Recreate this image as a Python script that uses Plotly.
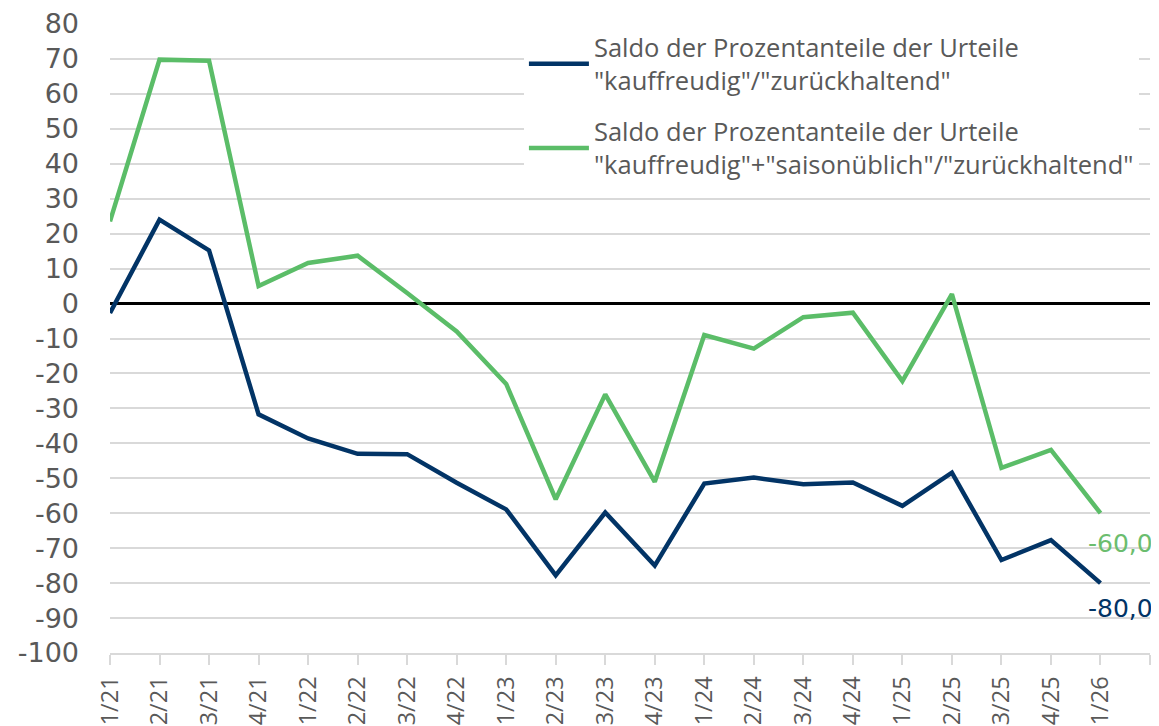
import plotly.graph_objects as go

quarters = ["1/21", "2/21", "3/21", "4/21", "1/22", "2/22", "3/22", "4/22",
            "1/23", "2/23", "3/23", "4/23", "1/24", "2/24", "3/24", "4/24",
            "1/25", "2/25", "3/25", "4/25", "1/26"]

saldo_kauf = [-2.7, 24.0, 15.2, -31.7, -38.6, -43.0, -43.1, -51.3,
              -58.9, -77.8, -59.8, -75.0, -51.5, -49.8, -51.7, -51.2,
              -57.9, -48.4, -73.4, -67.7, -80.0]

saldo_kauf_saison = [23.5, 69.8, 69.5, 5.0, 11.6, 13.7, 3.0, -8.0,
                     -23.0, -56.0, -26.0, -51.0, -9.0, -12.9, -3.9, -2.6,
                     -22.2, 2.7, -47.0, -41.9, -60.0]

name_kauf = "Saldo der Prozentanteile der Urteile<br>\"kauffreudig\"/\"zurückhaltend\""
name_saison = "Saldo der Prozentanteile der Urteile<br>\"kauffreudig\"+\"saisonüblich\"/\"zurückhaltend\""

y_ticks = list(range(-100, 81, 10))

NAVY = "#023466"
GREEN = "#5BBD68"
GRAY_TXT = "#595959"
FONT = "Open Sans"
WIDE = "DejaVu Sans"

x_idx = list(range(len(quarters)))

fig = go.Figure()
fig.add_trace(go.Scatter(x=x_idx, y=saldo_kauf, mode="lines", name=name_kauf,
                         line=dict(color=NAVY, width=4.5), legendgroup="a"))
fig.add_trace(go.Scatter(x=x_idx, y=saldo_kauf_saison, mode="lines", name=name_saison,
                         line=dict(color=GREEN, width=4.5), legendgroup="b"))

def fmt(v):
    return f"{v:.1f}".replace(".", ",")

fig.add_annotation(x=x_idx[-1], y=saldo_kauf_saison[-1], text=fmt(saldo_kauf_saison[-1]),
                   showarrow=False, xanchor="left", yanchor="middle", xshift=-14, yshift=-30,
                   font=dict(family=WIDE, size=25, color="#6BBD6E"))
fig.add_annotation(x=x_idx[-1], y=saldo_kauf[-1], text=fmt(saldo_kauf[-1]),
                   showarrow=False, xanchor="left", yanchor="middle", xshift=-14, yshift=-25,
                   font=dict(family=WIDE, size=25, color=NAVY))

fig.update_layout(
    width=1159, height=726,
    margin=dict(l=102, r=17, t=16, b=81),
    paper_bgcolor="white", plot_bgcolor="white",
    font=dict(family=FONT, color=GRAY_TXT),
    showlegend=True,
    legend=dict(x=0.398, y=1.0, xanchor="left", yanchor="top",
                font=dict(family=FONT, size=25.5, color=GRAY_TXT),
                bgcolor="rgba(255,255,255,1)", traceorder="grouped",
                tracegroupgap=15, itemwidth=60),
    xaxis=dict(range=[0, len(quarters)], tickmode="array", automargin=False,
               tickvals=list(range(len(quarters) + 1)), ticktext=quarters + [""],
               tickangle=-90, ticks="outside", ticklen=10, tickwidth=2,
               tickcolor="#D9D9D9", showline=True, linecolor="#D9D9D9", linewidth=2,
               showgrid=False, zeroline=False, ticklabeloverflow="allow",
               tickfont=dict(family=FONT, size=23.5, color=GRAY_TXT), ticklabelstandoff=2),
    yaxis=dict(range=[-100, 80], tickmode="array", tickvals=y_ticks, automargin=False,
               ticktext=[str(v) for v in y_ticks], ticklabeloverflow="allow",
               showgrid=True, gridcolor="#D9D9D9", gridwidth=2,
               zeroline=True, zerolinecolor="#000000", zerolinewidth=3,
               showline=False, ticks="",
               tickfont=dict(family=WIDE, size=27, color=GRAY_TXT), ticklabelstandoff=30),
)

fig.write_html("out.html")
